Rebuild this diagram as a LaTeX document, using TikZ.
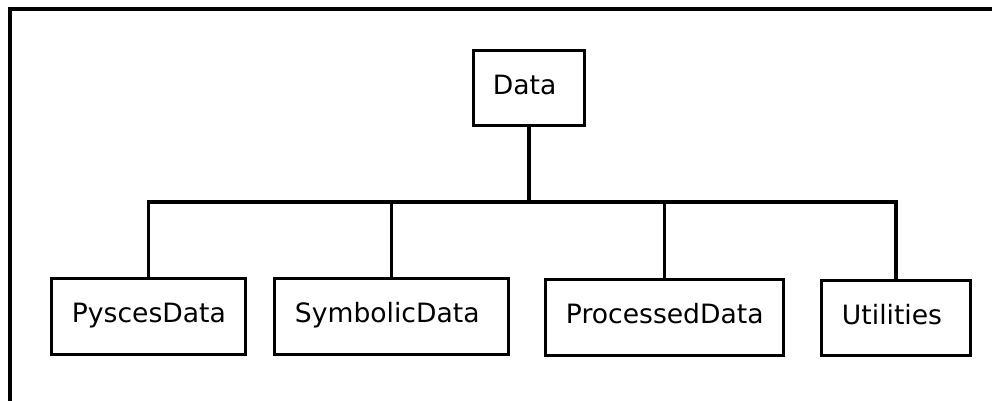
\documentclass[tikz,border=0pt]{standalone}
\usepackage{fontspec}
\setmainfont{DejaVu Sans}
\begin{document}
\begin{tikzpicture}[x=1pt,y=-1pt,
  box/.style={draw=black, line width=3.5pt, rectangle, inner sep=0pt},
  lbl/.style={anchor=base west, inner sep=0pt, font=\fontsize{26.6}{30}\selectfont},
  wire/.style={draw=black, line width=3.5pt},
  frameline/.style={draw=black, line width=4pt}]
  \useasboundingbox (0,0) rectangle (992,400);

  % outer frame (open at right and bottom)
  \draw[frameline] (10,420) -- (10,9.3) -- (1010,9.3);

  % boxes
  \node[box, minimum width=111pt, minimum height=75pt] (data) at (529,88) {};
  \node[box, minimum width=194pt, minimum height=76pt] (pys)  at (148.5,316.5) {};
  \node[box, minimum width=234pt, minimum height=76pt] (sym)  at (391.5,316.5) {};
  \node[box, minimum width=238pt, minimum height=76pt] (proc) at (664.5,317.5) {};
  \node[box, minimum width=149pt, minimum height=75pt] (util) at (896,318) {};

  % labels
  \node[lbl] (tdata) at ([shift={(21pt,-46pt)}]data.north west) {Data};
  \node[lbl] (tpys)  at ([shift={(22pt,-46pt)}]pys.north west)  {PyscesData};
  \node[lbl] (tsym)  at ([shift={(22pt,-46pt)}]sym.north west)  {SymbolicData};
  \node[lbl] (tproc) at ([shift={(22pt,-46pt)}]proc.north west) {ProcessedData};
  \node[lbl] (tutil) at ([shift={(22pt,-46pt)}]util.north west) {Utilities};

  % bus
  \coordinate (b1) at (pys.north |- 0,202);
  \coordinate (b2) at (sym.north |- 0,202);
  \coordinate (b3) at (proc.north |- 0,202);
  \coordinate (b4) at (util.north |- 0,202);
  \coordinate (bd) at (data.south |- 0,202);

  \draw[wire] (pys.north) -- (b1) -- (b4) -- (util.north);
  \draw[wire] (data.south) -- (bd);
  \draw[wire] (b2) -- (sym.north);
  \draw[wire] (b3) -- (proc.north);
\end{tikzpicture}
\end{document}
